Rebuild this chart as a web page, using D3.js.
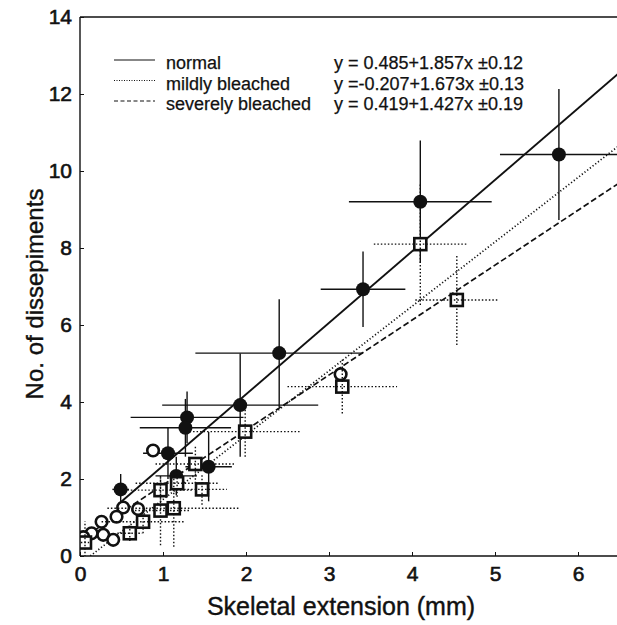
<!DOCTYPE html>
<html>
<head>
<meta charset="utf-8">
<script src="https://cdn.jsdelivr.net/npm/d3@7"></script>
<style>
  body { margin: 0; background: #fff; }
  text { font-family: "Liberation Sans", Arial, sans-serif; fill: #111; }
</style>
</head>
<body>
<div id="chart"></div>
<script>
// chart size (window is 617 x 625)
var width = 617
var height = 625

// --- data ---
// normal colonies (filled circles, solid error bars)
var normalX    = [5.77, 4.10, 3.41, 2.40, 1.93, 1.29, 1.27, 1.06, 1.16, 1.55, 0.49]
var normalY    = [10.43, 9.20, 6.93, 5.27, 3.92, 3.60, 3.33, 2.67, 2.08, 2.32, 1.73]
var normalXErr = [0.71, 0.86, 0.51, 1.01, 0.94, 0.68, 0.55, 0.30, 0.25, 0.28, 0.10]
var normalYErr = [1.70, 1.59, 0.98, 1.40, 1.34, 0.67, 0.75, 0.67, 0.50, 0.90, 0.40]

// mildly bleached (open squares, dotted error bars)
var mildX    = [4.10, 4.54, 3.16, 1.99, 1.39, 1.47, 1.17, 0.97, 1.13, 0.97, 0.76, 0.60, 0.06]
var mildY    = [8.10, 6.65, 4.40, 3.23, 2.39, 1.73, 1.89, 1.71, 1.24, 1.18, 0.89, 0.59, 0.35]
var mildXErr = [0.56, 0.50, 0.66, 0.67, 0.48, 0.30, 0.50, 0.40, 0.80, 0.35, 0.50, 0.15, 0.05]
var mildYErr = [1.58, 1.17, 0.70, 0.65, 0.50, 0.40, 0.35, 0.40, 1.00, 0.90, 0.30, 0.20, 0.55]

// severely bleached (open circles)
var severeX = [3.14, 0.88, 0.70, 0.52, 0.44, 0.26, 0.28, 0.40, 0.14, 0.04]
var severeY = [4.72, 2.74, 1.22, 1.26, 1.02, 0.89, 0.55, 0.42, 0.59, 0.49]

// regression fits: intercept, slope, start of line
var fitNames      = ["normal", "mildly bleached", "severely bleached"]
var fitIntercepts = [0.485, -0.207, 0.419]
var fitSlopes     = [1.857, 1.673, 1.427]
var fitStart      = [0.5, 0.124, 0.1]
var fitLabels     = ["y = 0.485+1.857x \u00b10.12", "y =-0.207+1.673x \u00b10.13", "y = 0.419+1.427x \u00b10.19"]
var fitDash       = [null, "1.2,2.2", "6,3"]

var xTicks = [0, 1, 2, 3, 4, 5, 6]
var yTicks = [0, 2, 4, 6, 8, 10, 12, 14]

// append the svg object
var svg = d3.select("#chart")
  .append("svg")
    .attr("width", width)
    .attr("height", height)

// scales
var x = d3.scaleLinear().domain([0, 6.5]).range([80, 80 + 6.5 * 83])
var y = d3.scaleLinear().domain([0, 14]).range([556, 17])

svg.append("clipPath").attr("id", "clip")
  .append("rect")
    .attr("x", x(0)).attr("y", y(14))
    .attr("width", x(6.5) - x(0)).attr("height", y(0) - y(14))

var plot = svg.append("g").attr("clip-path", "url(#clip)")

// regression lines
fitNames.forEach(function(name, i) {
  var x1 = fitStart[i], x2 = 6.5
  plot.append("line")
    .attr("x1", x(x1)).attr("y1", y(fitIntercepts[i] + fitSlopes[i] * x1))
    .attr("x2", x(x2)).attr("y2", y(fitIntercepts[i] + fitSlopes[i] * x2))
    .attr("stroke", "#111")
    .attr("stroke-width", i == 0 ? 1.9 : 1.7)
    .attr("stroke-dasharray", fitDash[i])
})

var normal = normalX.map(function(d, i) {
  return { x: d, y: normalY[i], ex: normalXErr[i], ey: normalYErr[i] }
})
var mild = mildX.map(function(d, i) {
  return { x: d, y: mildY[i], ex: mildXErr[i], ey: mildYErr[i] }
})
var severe = severeX.map(function(d, i) {
  return { x: d, y: severeY[i] }
})

function errorBars(g, data, dash) {
  var bars = g.append("g")
    .attr("stroke", "#111")
    .attr("stroke-width", 1.4)
    .attr("stroke-dasharray", dash)
  bars.selectAll(".h").data(data).enter().append("line")
    .attr("x1", function(d) { return x(d.x - d.ex) })
    .attr("x2", function(d) { return x(d.x + d.ex) })
    .attr("y1", function(d) { return y(d.y) })
    .attr("y2", function(d) { return y(d.y) })
  bars.selectAll(".v").data(data).enter().append("line")
    .attr("x1", function(d) { return x(d.x) })
    .attr("x2", function(d) { return x(d.x) })
    .attr("y1", function(d) { return y(d.y - d.ey) })
    .attr("y2", function(d) { return y(d.y + d.ey) })
}

errorBars(plot, normal, null)

// filled circles
plot.append("g").selectAll("circle")
  .data(normal).enter().append("circle")
    .attr("cx", function(d) { return x(d.x) })
    .attr("cy", function(d) { return y(d.y) })
    .attr("r", 7)
    .attr("fill", "#111")

// open circles
plot.append("g").selectAll("circle")
  .data(severe).enter().append("circle")
    .attr("cx", function(d) { return x(d.x) })
    .attr("cy", function(d) { return y(d.y) })
    .attr("r", 5.8)
    .attr("fill", "#fff")
    .attr("stroke", "#111")
    .attr("stroke-width", 2.6)

// open squares, with their dotted bars on top
plot.append("g").selectAll("rect")
  .data(mild).enter().append("rect")
    .attr("x", function(d) { return x(d.x) - 6 })
    .attr("y", function(d) { return y(d.y) - 6 })
    .attr("width", 12).attr("height", 12)
    .attr("fill", "#fff")
    .attr("stroke", "#111")
    .attr("stroke-width", 2.6)

errorBars(plot, mild, "1.5,2")

// frame
var frame = svg.append("g").attr("stroke", "#111").attr("stroke-width", 1.4).attr("fill", "none")
frame.append("line").attr("x1", x(0)).attr("x2", x(0)).attr("y1", y(14)).attr("y2", y(0))
frame.append("line").attr("x1", x(0)).attr("x2", width).attr("y1", y(0)).attr("y2", y(0))
frame.append("line").attr("x1", x(0)).attr("x2", width).attr("y1", y(14)).attr("y2", y(14))

// ticks (inward) + labels
svg.append("g")
  .attr("transform", "translate(0," + y(0) + ")")
  .call(d3.axisBottom(x).tickValues(xTicks).tickSize(-4).tickPadding(10).tickFormat(d3.format("d")))
  .call(function(g) {
    g.select(".domain").remove()
    g.selectAll("line").attr("stroke", "#111")
    g.selectAll("text").attr("font-size", 21).attr("dy", "0.72em")
      .attr("stroke", "#111").attr("stroke-width", 0.6)
  })

svg.append("g")
  .attr("transform", "translate(" + x(0) + ",0)")
  .call(d3.axisLeft(y).tickValues(yTicks).tickSize(-4).tickPadding(8).tickFormat(d3.format("d")))
  .call(function(g) {
    g.select(".domain").remove()
    g.selectAll("line").attr("stroke", "#111")
    g.selectAll("text").attr("font-size", 21)
      .attr("stroke", "#111").attr("stroke-width", 0.6)
  })

// axis titles
svg.append("text")
  .attr("x", 341).attr("y", 615)
  .attr("text-anchor", "middle")
  .attr("font-size", 25)
  .attr("stroke", "#111").attr("stroke-width", 0.4)
  .text("Skeletal extension (mm)")

svg.append("text")
  .attr("transform", "translate(43,294) rotate(-90)")
  .attr("text-anchor", "middle")
  .attr("font-size", 24)
  .attr("stroke", "#111").attr("stroke-width", 0.4)
  .text("No. of dissepiments")

// legend
var legend = svg.append("g")
fitNames.forEach(function(name, i) {
  var base = 69 + i * 20.5
  legend.append("line")
    .attr("x1", 114).attr("x2", 155)
    .attr("y1", base - 9).attr("y2", base - 9)
    .attr("stroke", "#111")
    .attr("stroke-width", 1.2)
    .attr("stroke-dasharray", i == 0 ? null : (i == 1 ? "1,1.5" : "4,2.5"))
  legend.append("text")
    .attr("x", 166).attr("y", base)
    .attr("font-size", 18)
    .attr("stroke", "#111").attr("stroke-width", 0.25)
    .text(name)
  legend.append("text")
    .attr("x", 334).attr("y", base)
    .attr("font-size", 18)
    .attr("stroke", "#111").attr("stroke-width", 0.25)
    .style("white-space", "pre")
    .text(fitLabels[i])
})
</script>
</body>
</html>
